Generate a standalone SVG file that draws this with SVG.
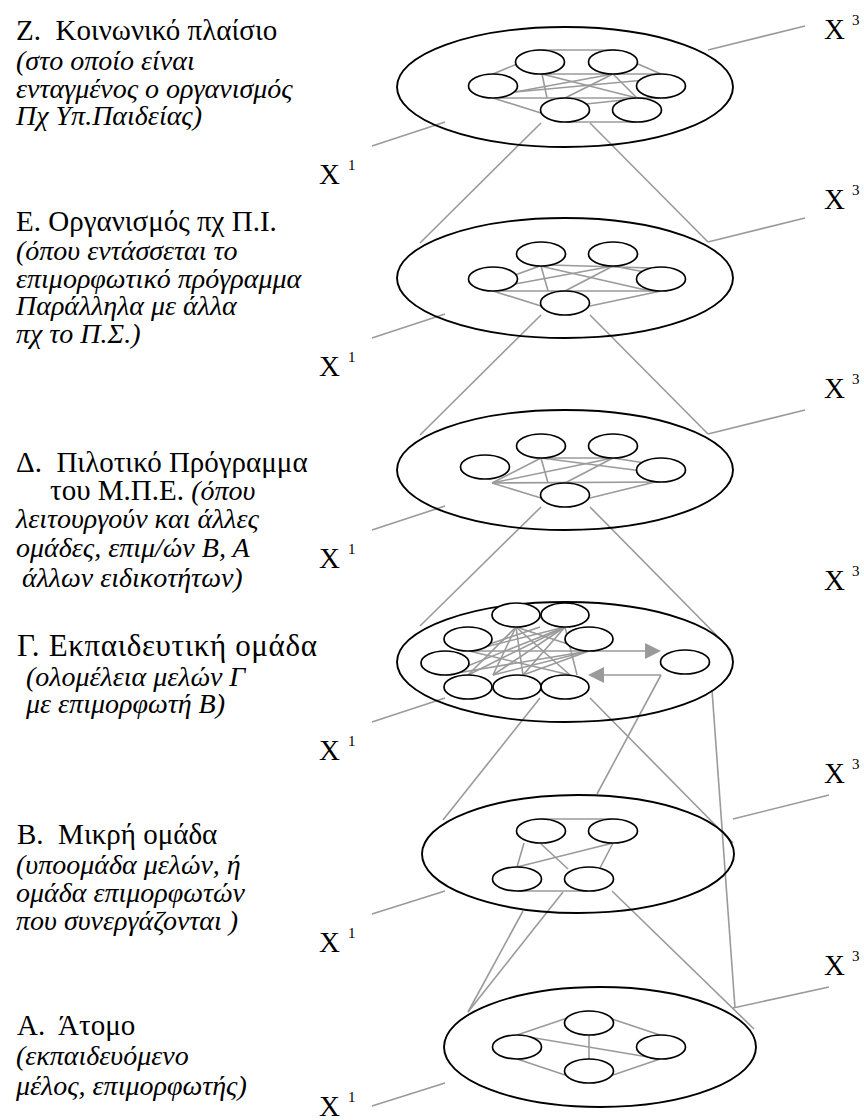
<svg xmlns="http://www.w3.org/2000/svg" width="864" height="1120" viewBox="0 0 864 1120" font-family="'Liberation Serif', 'DejaVu Serif', serif">
<style>
text{font-family:'Liberation Serif','DejaVu Serif',serif;fill:#000}
.t{font-size:29px}
.i{font-size:28px;font-style:italic}
.x{font-size:29px}
.s{font-size:15px;font-style:normal}
.big{fill:none;stroke:#000;stroke-width:1.9}
.sm{fill:#fff;stroke:#000;stroke-width:1.7}
.g line,.g polyline{stroke:#9a9a9a;stroke-width:1.6;fill:none}
.ar{stroke:#9a9a9a;stroke-width:2.6;fill:none}
.ah{fill:#9a9a9a}
</style>
<rect width="864" height="1120" fill="#fff"/>

<g id="connectors" class="g">
  <!-- level 1 inner -->
  <line x1="537" y1="50" x2="616" y2="50"/>
  <line x1="493" y1="74" x2="517" y2="64"/>
  <line x1="540" y1="74" x2="661" y2="74"/>
  <line x1="542" y1="74" x2="547" y2="98"/>
  <line x1="542" y1="74" x2="637" y2="98"/>
  <line x1="613" y1="74" x2="515" y2="92"/>
  <line x1="613" y1="74" x2="565" y2="98"/>
  <line x1="613" y1="74" x2="637" y2="98"/>
  <line x1="638" y1="64" x2="661" y2="74"/>
  <line x1="493" y1="98" x2="661" y2="98"/>
  <line x1="493" y1="98" x2="541" y2="113"/>
  <line x1="515" y1="92" x2="645" y2="80"/>
  <line x1="586" y1="104" x2="652" y2="97"/>
  <line x1="565" y1="122" x2="637" y2="122"/>
  <!-- level 2 inner -->
  <line x1="550" y1="265" x2="652" y2="268"/>
  <line x1="541" y1="266" x2="548" y2="291"/>
  <line x1="540" y1="266" x2="650" y2="291"/>
  <line x1="540" y1="266" x2="515" y2="275"/>
  <line x1="613" y1="266" x2="515" y2="284"/>
  <line x1="613" y1="266" x2="565" y2="291"/>
  <line x1="613" y1="266" x2="645" y2="272"/>
  <line x1="493" y1="291" x2="661" y2="291"/>
  <line x1="493" y1="291" x2="541" y2="306"/>
  <line x1="590" y1="306" x2="661" y2="291"/>
  <!-- level 3 inner -->
  <line x1="541" y1="458" x2="613" y2="458"/>
  <line x1="541" y1="458" x2="492" y2="483"/>
  <line x1="613" y1="458" x2="492" y2="483"/>
  <line x1="492" y1="483" x2="661" y2="482"/>
  <line x1="492" y1="483" x2="541" y2="498"/>
  <line x1="541" y1="458" x2="548" y2="483"/>
  <line x1="541" y1="458" x2="650" y2="472"/>
  <line x1="613" y1="458" x2="565" y2="483"/>
  <line x1="613" y1="458" x2="645" y2="463"/>
  <line x1="590" y1="498" x2="655" y2="482"/>
  <!-- level 4 inner -->
  <line x1="516" y1="627" x2="468" y2="675"/>
  <line x1="516" y1="627" x2="523" y2="675"/>
  <line x1="516" y1="627" x2="570" y2="675"/>
  <line x1="516" y1="627" x2="589" y2="651"/>
  <line x1="516" y1="627" x2="493" y2="675"/>
  <line x1="565" y1="627" x2="468" y2="675"/>
  <line x1="565" y1="627" x2="493" y2="675"/>
  <line x1="565" y1="627" x2="523" y2="675"/>
  <line x1="565" y1="627" x2="577" y2="675"/>
  <line x1="565" y1="627" x2="469" y2="651"/>
  <line x1="565" y1="627" x2="445" y2="675"/>
  <line x1="469" y1="651" x2="570" y2="675"/>
  <line x1="445" y1="675" x2="589" y2="651"/>
  <line x1="589" y1="651" x2="523" y2="675"/>
  <line x1="589" y1="651" x2="493" y2="675"/>
  <line x1="540" y1="627" x2="469" y2="651"/>
  <!-- level 5 inner -->
  <line x1="540" y1="819" x2="613" y2="819"/>
  <line x1="524" y1="843" x2="517" y2="867"/>
  <line x1="540" y1="843" x2="568" y2="869"/>
  <line x1="613" y1="843" x2="517" y2="867"/>
  <line x1="613" y1="843" x2="600" y2="868"/>
  <line x1="517" y1="891" x2="588" y2="891"/>
  <!-- level 6 inner -->
  <line x1="588" y1="1011" x2="517" y2="1035"/>
  <line x1="588" y1="1011" x2="660" y2="1035"/>
  <line x1="589" y1="1035" x2="589" y2="1059"/>
  <line x1="517" y1="1035" x2="660" y2="1059"/>
  <line x1="517" y1="1059" x2="565" y2="1075"/>
  <line x1="613" y1="1075" x2="660" y2="1059"/>
  <!-- between levels -->
  <line x1="541" y1="123" x2="420" y2="243"/>
  <line x1="590" y1="123" x2="708" y2="242"/>
  <line x1="541" y1="315" x2="420" y2="435"/>
  <line x1="590" y1="315" x2="708" y2="434"/>
  <line x1="541" y1="507" x2="420" y2="626"/>
  <line x1="590" y1="507" x2="731" y2="650"/>
  <line x1="540" y1="698" x2="443" y2="820"/>
  <line x1="590" y1="698" x2="733" y2="843"/>
  <polyline points="661,675 597,794"/>
  <line x1="712" y1="690" x2="735" y2="1008"/>
  <line x1="523" y1="911" x2="468" y2="1012"/>
  <line x1="563" y1="892" x2="468" y2="1012"/>
  <line x1="612" y1="891" x2="754" y2="1029"/>
  <!-- X3 pointers -->
  <line x1="708" y1="50" x2="805" y2="26"/>
  <line x1="708" y1="242" x2="805" y2="218"/>
  <line x1="708" y1="434" x2="805" y2="410"/>
  <line x1="733" y1="819" x2="829" y2="795"/>
  <line x1="733" y1="1008" x2="829" y2="987"/>
  <!-- X1 pointers -->
  <line x1="372" y1="146" x2="445" y2="122"/>
  <line x1="372" y1="338" x2="445" y2="314"/>
  <line x1="372" y1="530" x2="445" y2="506"/>
  <line x1="372" y1="722" x2="445" y2="698"/>
  <line x1="372" y1="914" x2="445" y2="891"/>
  <line x1="372" y1="1106" x2="445" y2="1083"/>
  <!-- arrows level 4 -->
  <line class="ar" x1="469" y1="651" x2="647" y2="651"/>
  <polygon class="ah" points="645,643 661,651 645,659"/>
  <line class="ar" x1="661" y1="675" x2="602" y2="675"/>
  <polygon class="ah" points="604,667 588,675 604,683"/>
</g>

<g id="level-Z">
  <ellipse class="big" cx="565" cy="87" rx="168" ry="60"/>
  <ellipse class="sm" cx="540" cy="62" rx="24.5" ry="12"/>
  <ellipse class="sm" cx="613" cy="62" rx="24.5" ry="12"/>
  <ellipse class="sm" cx="493" cy="86" rx="24.5" ry="12"/>
  <ellipse class="sm" cx="661" cy="86" rx="24.5" ry="12"/>
  <ellipse class="sm" cx="565" cy="110" rx="24.5" ry="12"/>
  <ellipse class="sm" cx="637" cy="110" rx="24.5" ry="12"/>
</g>
<g id="level-E">
  <ellipse class="big" cx="565" cy="278" rx="168" ry="60"/>
  <ellipse class="sm" cx="541" cy="254" rx="24.5" ry="12"/>
  <ellipse class="sm" cx="613" cy="254" rx="24.5" ry="12"/>
  <ellipse class="sm" cx="493" cy="279" rx="24.5" ry="12"/>
  <ellipse class="sm" cx="661" cy="279" rx="24.5" ry="12"/>
  <ellipse class="sm" cx="565" cy="303" rx="24.5" ry="12"/>
</g>
<g id="level-D">
  <ellipse class="big" cx="565" cy="470" rx="168" ry="60"/>
  <ellipse class="sm" cx="541" cy="446" rx="24.5" ry="12"/>
  <ellipse class="sm" cx="613" cy="446" rx="24.5" ry="12"/>
  <ellipse class="sm" cx="485" cy="467" rx="24.5" ry="12"/>
  <ellipse class="sm" cx="661" cy="470" rx="24.5" ry="12"/>
  <ellipse class="sm" cx="565" cy="495" rx="24.5" ry="12"/>
</g>
<g id="level-G">
  <ellipse class="big" cx="565" cy="662" rx="168" ry="60"/>
  <ellipse class="sm" cx="516" cy="615" rx="24" ry="12"/>
  <ellipse class="sm" cx="565" cy="615" rx="24" ry="12"/>
  <ellipse class="sm" cx="468" cy="639" rx="24" ry="12"/>
  <ellipse class="sm" cx="589" cy="639" rx="24" ry="12"/>
  <ellipse class="sm" cx="445" cy="663" rx="24" ry="12"/>
  <ellipse class="sm" cx="468" cy="687" rx="24" ry="12"/>
  <ellipse class="sm" cx="517" cy="687" rx="24" ry="12"/>
  <ellipse class="sm" cx="565" cy="687" rx="24" ry="12"/>
  <ellipse class="sm" cx="685" cy="662" rx="24.5" ry="12"/>
</g>
<g id="level-B">
  <ellipse class="big" cx="578" cy="854" rx="156" ry="59"/>
  <ellipse class="sm" cx="541" cy="831" rx="24.5" ry="12"/>
  <ellipse class="sm" cx="613" cy="831" rx="24.5" ry="12"/>
  <ellipse class="sm" cx="517" cy="879" rx="24.5" ry="12"/>
  <ellipse class="sm" cx="589" cy="879" rx="24.5" ry="12"/>
</g>
<g id="level-A">
  <ellipse class="big" cx="600" cy="1047" rx="156" ry="60"/>
  <ellipse class="sm" cx="589" cy="1023" rx="24.5" ry="12"/>
  <ellipse class="sm" cx="517" cy="1047" rx="24.5" ry="12"/>
  <ellipse class="sm" cx="661" cy="1047" rx="24.5" ry="12"/>
  <ellipse class="sm" cx="589" cy="1071" rx="24.5" ry="12"/>
</g>

<g id="labels-Z">
  <text class="t" x="16" y="40" xml:space="preserve">Ζ.  Κοινωνικό πλαίσιο</text>
  <text class="i" x="16" y="70">(στο οποίο είναι</text>
  <text class="i" x="16" y="98">ενταγμένος ο οργανισμός</text>
  <text class="i" x="16" y="125">Πχ Υπ.Παιδείας)</text>
</g>
<g id="labels-E">
  <text class="t" x="16" y="231">Ε. Οργανισμός πχ Π.Ι.</text>
  <text class="i" x="16" y="260">(όπου εντάσσεται το</text>
  <text class="i" x="16" y="288">επιμορφωτικό πρόγραμμα</text>
  <text class="i" x="16" y="315">Παράλληλα με άλλα</text>
  <text class="i" x="16" y="343">πχ το Π.Σ.)</text>
</g>
<g id="labels-D">
  <text class="t" x="16" y="472" xml:space="preserve">Δ.  Πιλοτικό Πρόγραμμα</text>
  <text class="t" x="50" y="500">του Μ.Π.Ε. <tspan class="i">(όπου</tspan></text>
  <text class="i" x="16" y="528">λειτουργούν και άλλες</text>
  <text class="i" x="16" y="557">ομάδες, επιμ/ών Β, Α</text>
  <text class="i" x="22" y="587">άλλων ειδικοτήτων)</text>
</g>
<g id="labels-G">
  <text class="t" x="17" y="656" style="font-size:31px" textLength="300" lengthAdjust="spacing">Γ. Εκπαιδευτική ομάδα</text>
  <text class="i" x="26" y="686">(ολομέλεια μελών Γ</text>
  <text class="i" x="26" y="713">με επιμορφωτή Β)</text>
</g>
<g id="labels-B">
  <text class="t" x="17" y="844" xml:space="preserve">Β.  Μικρή ομάδα</text>
  <text class="i" x="16" y="874">(υποομάδα μελών, ή</text>
  <text class="i" x="16" y="902">ομάδα επιμορφωτών</text>
  <text class="i" x="16" y="930">που συνεργάζονται )</text>
</g>
<g id="labels-A">
  <text class="t" x="17" y="1035" xml:space="preserve">Α.  Άτομο</text>
  <text class="i" x="16" y="1065">(εκπαιδευόμενο</text>
  <text class="i" x="16" y="1095">μέλος, επιμορφωτής)</text>
</g>
<g id="labels-X">
  <text class="x" x="824" y="39">X<tspan class="s" x="852" dy="-14">3</tspan></text>
  <text class="x" x="824" y="209">X<tspan class="s" x="852" dy="-14">3</tspan></text>
  <text class="x" x="824" y="398">X<tspan class="s" x="852" dy="-14">3</tspan></text>
  <text class="x" x="824" y="590">X<tspan class="s" x="852" dy="-14">3</tspan></text>
  <text class="x" x="824" y="783">X<tspan class="s" x="852" dy="-14">3</tspan></text>
  <text class="x" x="824" y="975">X<tspan class="s" x="852" dy="-14">3</tspan></text>
  <text class="x" x="319" y="184">X<tspan class="s" x="348" dy="-14">1</tspan></text>
  <text class="x" x="319" y="376">X<tspan class="s" x="348" dy="-14">1</tspan></text>
  <text class="x" x="319" y="568">X<tspan class="s" x="348" dy="-14">1</tspan></text>
  <text class="x" x="319" y="760">X<tspan class="s" x="348" dy="-14">1</tspan></text>
  <text class="x" x="319" y="952">X<tspan class="s" x="348" dy="-14">1</tspan></text>
  <text class="x" x="319" y="1116">X<tspan class="s" x="348" dy="-14">1</tspan></text>
</g>
</svg>
